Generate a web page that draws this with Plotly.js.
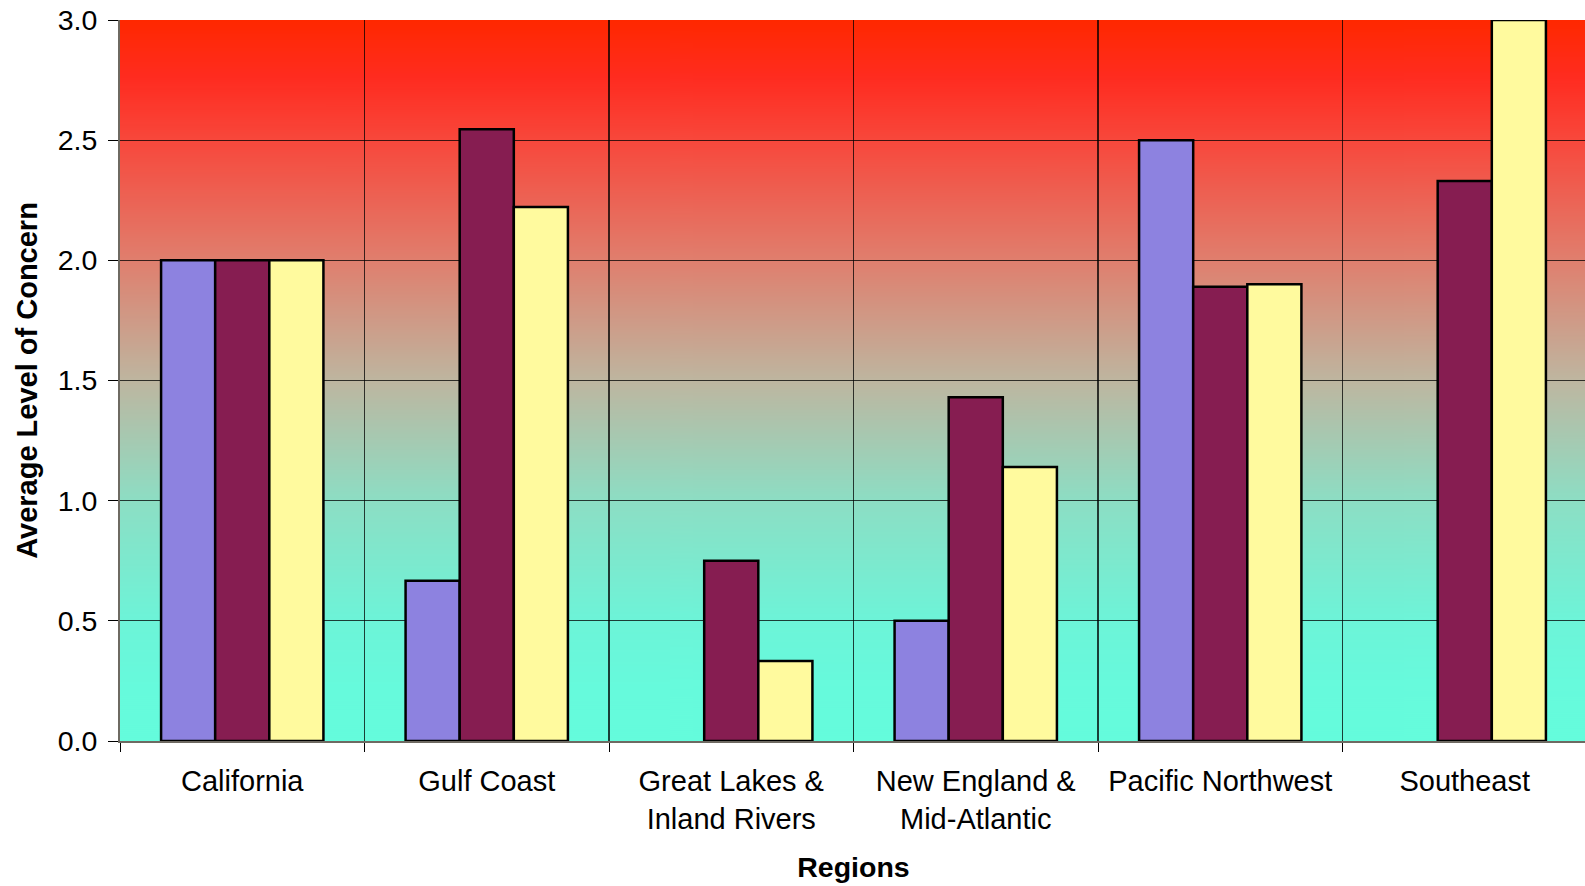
<!DOCTYPE html>
<html>
<head>
<meta charset="utf-8">
<script src="https://cdn.plot.ly/plotly-3.0.1.min.js"></script>
<style>
html, body { margin: 0; padding: 0; overflow: hidden; background: #fff; }
#chart { width: 1590px; height: 886px; }
</style>
</head>
<body>
<div id="chart"></div>
<script>
const categories = ["California", "Gulf Coast", "Great Lakes &<br>Inland Rivers", "New England &<br>Mid-Atlantic", "Pacific Northwest", "Southeast"];
const series1 = [2.0, 0.667, null, 0.5, 2.5, null];
const series2 = [2.0, 2.545, 0.75, 1.43, 1.89, 2.33];
const series3 = [2.0, 2.222, 0.333, 1.14, 1.9, 3.0];
const yTickVals = [0, 0.5, 1.0, 1.5, 2.0, 2.5, 3.0];
const yTickText = ["0.0", "0.5", "1.0", "1.5", "2.0", "2.5", "3.0"];

function gradientURL() {
  const c = document.createElement('canvas');
  c.width = 4; c.height = 720;
  const ctx = c.getContext('2d');
  const g = ctx.createLinearGradient(0, 0, 0, 720);
  g.addColorStop(0.0, '#FF2800');
  g.addColorStop(0.08, '#FF2C20');
  g.addColorStop(0.167, '#F8483C');
  g.addColorStop(0.333, '#E07F6E');
  g.addColorStop(0.5, '#BEB6A0');
  g.addColorStop(0.667, '#8DDEC4');
  g.addColorStop(0.833, '#6DF4D8');
  g.addColorStop(0.92, '#67FADC');
  g.addColorStop(1.0, '#64FCDC');
  ctx.fillStyle = g;
  ctx.fillRect(0, 0, 4, 720);
  return c.toDataURL('image/png');
}

const font = { family: 'Liberation Sans, Arial, sans-serif', color: '#000' };
const barLine = { color: '#000', width: 2.5 };

const traces = [
  { type: 'bar', name: 'Series 1', x: categories, y: series1, marker: { color: '#8D82E0', line: barLine } },
  { type: 'bar', name: 'Series 2', x: categories, y: series2, marker: { color: '#861D51', line: barLine } },
  { type: 'bar', name: 'Series 3', x: categories, y: series3, marker: { color: '#FFFA9E', line: barLine } }
];

const layout = {
  width: 1590, height: 886,
  margin: { l: 120, r: 3, t: 20, b: 145 },
  paper_bgcolor: '#fff',
  plot_bgcolor: 'rgba(0,0,0,0)',
  showlegend: false,
  barmode: 'group',
  bargap: 0.336,
  bargroupgap: 0,
  font: font,
  images: [{
    source: gradientURL(), xref: 'paper', yref: 'paper',
    x: 0, y: 1, sizex: 1, sizey: 1, sizing: 'stretch',
    xanchor: 'left', yanchor: 'top', layer: 'below'
  }],
  xaxis: {
    type: 'category',
    tickson: 'boundaries',
    ticks: 'outside', ticklen: 9, tickwidth: 1, tickcolor: '#000',
    ticklabelstandoff: 13,
    showgrid: true, gridcolor: 'rgba(0,0,0,0.75)', gridwidth: 1.3,
    showline: true, linecolor: '#6e6a62', linewidth: 2,
    tickfont: { family: font.family, size: 29, color: '#000' },
    title: { text: 'Regions', font: { family: font.family, size: 28.5, color: '#000', weight: 'bold' }, standoff: 24 },
    automargin: false
  },
  yaxis: {
    range: [0, 3.0],
    tickvals: yTickVals, ticktext: yTickText,
    ticks: 'outside', ticklen: 10, tickwidth: 1, tickcolor: '#000',
    ticklabelstandoff: 5,
    showgrid: true, gridcolor: 'rgba(0,0,0,0.75)', gridwidth: 1.3,
    showline: true, linecolor: '#6e6a62', linewidth: 2,
    zeroline: false,
    tickfont: { family: font.family, size: 28.5, color: '#000' },
    title: { text: 'Average Level of Concern', font: { family: font.family, size: 29, color: '#000', weight: 'bold' }, standoff: 12 },
    automargin: false
  }
};

Plotly.newPlot('chart', traces, layout, { displayModeBar: false, staticPlot: true });
</script>
</body>
</html>
